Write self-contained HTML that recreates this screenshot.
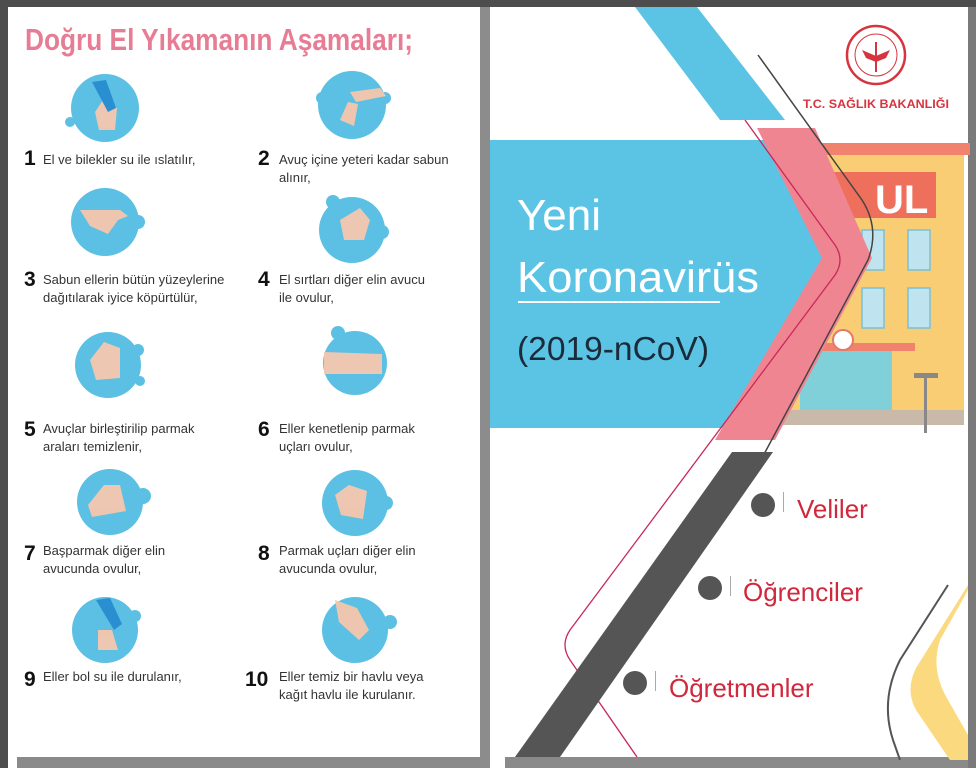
<!DOCTYPE html>
<html><head><meta charset="utf-8"><style>
html,body{margin:0;padding:0;width:976px;height:768px;overflow:hidden;background:#4a4a4a}
svg{display:block}
</style></head><body>
<svg width="976" height="768" viewBox="0 0 976 768" xmlns="http://www.w3.org/2000/svg" font-family="Liberation Sans, sans-serif">
<rect x="0" y="0" width="976" height="768" fill="#4d4d4d"/>
<rect x="8" y="7" width="472" height="761" fill="#ffffff"/>
<rect x="480" y="7" width="10" height="761" fill="#8c8c8c"/>
<rect x="490" y="7" width="478" height="761" fill="#ffffff"/>
<rect x="968" y="7" width="8" height="761" fill="#7a7a7a"/>
<rect x="17" y="757" width="463" height="11" fill="#8a8a8a"/>
<rect x="505" y="757" width="463" height="11" fill="#8a8a8a"/>

<text x="25" y="50" font-family="Liberation Sans Narrow, Liberation Sans, sans-serif" font-weight="bold" font-size="31" fill="#e77d95" textLength="388" lengthAdjust="spacingAndGlyphs">Doğru El Yıkamanın Aşamaları;</text>

<g fill="#5bc0e3">
<circle cx="105" cy="108" r="34"/><circle cx="70" cy="122" r="5"/>
<circle cx="352" cy="105" r="34"/><circle cx="322" cy="98" r="6"/><circle cx="385" cy="98" r="6"/>
<circle cx="105" cy="222" r="34"/><circle cx="138" cy="222" r="7"/>
<circle cx="352" cy="230" r="33"/><circle cx="333" cy="202" r="7"/><circle cx="382" cy="232" r="7"/>
<circle cx="108" cy="365" r="33"/><circle cx="140" cy="381" r="5"/><circle cx="138" cy="350" r="6"/>
<circle cx="355" cy="363" r="32"/><circle cx="338" cy="333" r="7"/>
<circle cx="110" cy="502" r="33"/><circle cx="143" cy="496" r="8"/>
<circle cx="355" cy="503" r="33"/><circle cx="386" cy="503" r="7"/>
<circle cx="105" cy="630" r="33"/><circle cx="135" cy="616" r="6"/>
<circle cx="355" cy="630" r="33"/><circle cx="390" cy="622" r="7"/>
</g>
<g fill="#f6c7ae" opacity="0.95">
<path d="M95 112 l8 -12 l14 8 l-2 22 l-16 0 z"/><path d="M340 120 l8 -18 l10 2 l-4 22 z"/><path d="M350 92 l30 -4 l6 8 l-30 6z"/>
<path d="M80 210 l40 0 l8 6 l-10 4 l-10 14 l-18 -8 z"/>
<path d="M340 220 l20 -12 l10 12 l-6 20 l-20 0z"/>
<path d="M90 360 l14 -18 l16 6 l0 30 l-24 2z"/>
<path d="M324 352 l58 2 l0 20 l-58 0z"/>
<path d="M88 505 l16 -20 l16 0 l6 26 l-34 6z"/>
<path d="M335 495 l14 -10 l18 6 l-4 28 l-22 -4z"/>
<path d="M98 630 l14 0 l6 20 l-20 0z"/>
<path d="M335 600 l22 8 l12 22 l-10 10 l-20 -18z"/>
</g>
<path d="M92 82 l14 -2 l10 28 l-8 4z" fill="#2a8fd0"/>
<path d="M96 600 l14 -2 l12 26 l-8 6z" fill="#2a8fd0"/>

<g font-size="13" fill="#333">
<g font-weight="bold" font-size="21" fill="#111">
<text x="24" y="165">1</text><text x="258" y="165">2</text>
<text x="24" y="286">3</text><text x="258" y="286">4</text>
<text x="24" y="436">5</text><text x="258" y="436">6</text>
<text x="24" y="560">7</text><text x="258" y="560">8</text>
<text x="24" y="686">9</text><text x="245" y="686">10</text>
</g>
<text x="43" y="164">El ve bilekler su ile ıslatılır,</text>
<text x="279" y="164">Avuç içine yeteri kadar sabun</text><text x="279" y="182">alınır,</text>
<text x="43" y="284">Sabun ellerin bütün yüzeylerine</text><text x="43" y="302">dağıtılarak iyice köpürtülür,</text>
<text x="279" y="284">El sırtları diğer elin avucu</text><text x="279" y="302">ile ovulur,</text>
<text x="43" y="433">Avuçlar birleştirilip parmak</text><text x="43" y="451">araları temizlenir,</text>
<text x="279" y="433">Eller kenetlenip parmak</text><text x="279" y="451">uçları ovulur,</text>
<text x="43" y="555">Başparmak diğer elin</text><text x="43" y="573">avucunda ovulur,</text>
<text x="279" y="555">Parmak uçları diğer elin</text><text x="279" y="573">avucunda ovulur,</text>
<text x="43" y="681">Eller bol su ile durulanır,</text>
<text x="279" y="681">Eller temiz bir havlu veya</text><text x="279" y="699">kağıt havlu ile kurulanır.</text>
</g>

<polygon points="635,7 697,7 785,120 720,120" fill="#5bc4e5"/>
<rect x="760" y="143" width="210" height="12" fill="#f0826e"/>
<rect x="772" y="155" width="192" height="255" fill="#f9cd73"/>
<rect x="790" y="172" width="146" height="46" fill="#ee6f5c"/>
<text x="875" y="213" font-size="40" font-weight="bold" fill="#ffffff">UL</text>
<g fill="#bfe4ef" stroke="#7cc0d6" stroke-width="1.5">
<rect x="862" y="230" width="22" height="40"/><rect x="908" y="230" width="22" height="40"/>
<rect x="862" y="288" width="22" height="40"/><rect x="908" y="288" width="22" height="40"/>
</g>
<rect x="780" y="343" width="135" height="8" fill="#f0826e"/>
<rect x="800" y="351" width="92" height="60" fill="#7fd0d8"/>
<circle cx="843" cy="340" r="10" fill="#fff" stroke="#e07a6a" stroke-width="2"/>
<rect x="772" y="410" width="192" height="15" fill="#c9b9a8"/>
<rect x="924" y="375" width="3" height="58" fill="#888"/><rect x="914" y="373" width="24" height="5" fill="#888"/>

<polygon points="490,140 810,140 832,283 775,428 490,428" fill="#5bc4e5"/>
<polygon points="757,128 815,128 872,258 775,440 715,440 822,258" fill="#f08592"/>
<path d="M758 55 L862 200 Q880 228 868 260 L762 458" fill="none" stroke="#444" stroke-width="1.5"/>
<path d="M745 120 L835 245 Q845 260 835 275 L570 630 Q560 645 570 660 L637 757" fill="none" stroke="#c8285a" stroke-width="1.3"/>
<polygon points="732,452 773,452 560,757 515,757" fill="#555"/>

<text x="517" y="230" font-size="44" fill="#fff">Yeni</text>
<text x="517" y="292" font-size="44" fill="#fff" textLength="242" lengthAdjust="spacingAndGlyphs">Koronavirüs</text>
<rect x="518" y="301" width="202" height="2" fill="#fff"/>
<text x="517" y="360" font-size="33" fill="#1b2b3a" textLength="192" lengthAdjust="spacingAndGlyphs">(2019-nCoV)</text>

<circle cx="876" cy="55" r="29" fill="none" stroke="#d6343f" stroke-width="2.5"/>
<circle cx="876" cy="55" r="21" fill="none" stroke="#d6343f" stroke-width="1"/>
<path d="M862 50 l14 6 l14 -6 l-4 8 l-10 4 l-10 -4z" fill="#d6343f"/>
<rect x="875" y="42" width="2" height="30" fill="#d6343f"/>
<text x="803" y="108" font-size="12" font-weight="bold" fill="#d6343f" textLength="146" lengthAdjust="spacingAndGlyphs">T.C. SAĞLIK BAKANLIĞI</text>

<g fill="#555">
<circle cx="763" cy="505" r="12"/><circle cx="710" cy="588" r="12"/><circle cx="635" cy="683" r="12"/>
</g>
<g fill="#aaa"><rect x="783" y="492" width="1" height="20"/><rect x="730" y="576" width="1" height="20"/><rect x="655" y="671" width="1" height="20"/></g>
<g font-size="26" fill="#d0283c">
<text x="797" y="518">Veliler</text>
<text x="743" y="601">Öğrenciler</text>
<text x="669" y="697">Öğretmenler</text>
</g>
<path d="M968 590 L940 640 Q930 670 948 700 L968 735 L968 760 L950 760 L916 710 Q905 690 916 668 L968 585z" fill="#fbd97e"/>
<path d="M948 585 L900 660 Q880 700 893 740 L900 760" fill="none" stroke="#555" stroke-width="2"/>
</svg>
</body></html>
